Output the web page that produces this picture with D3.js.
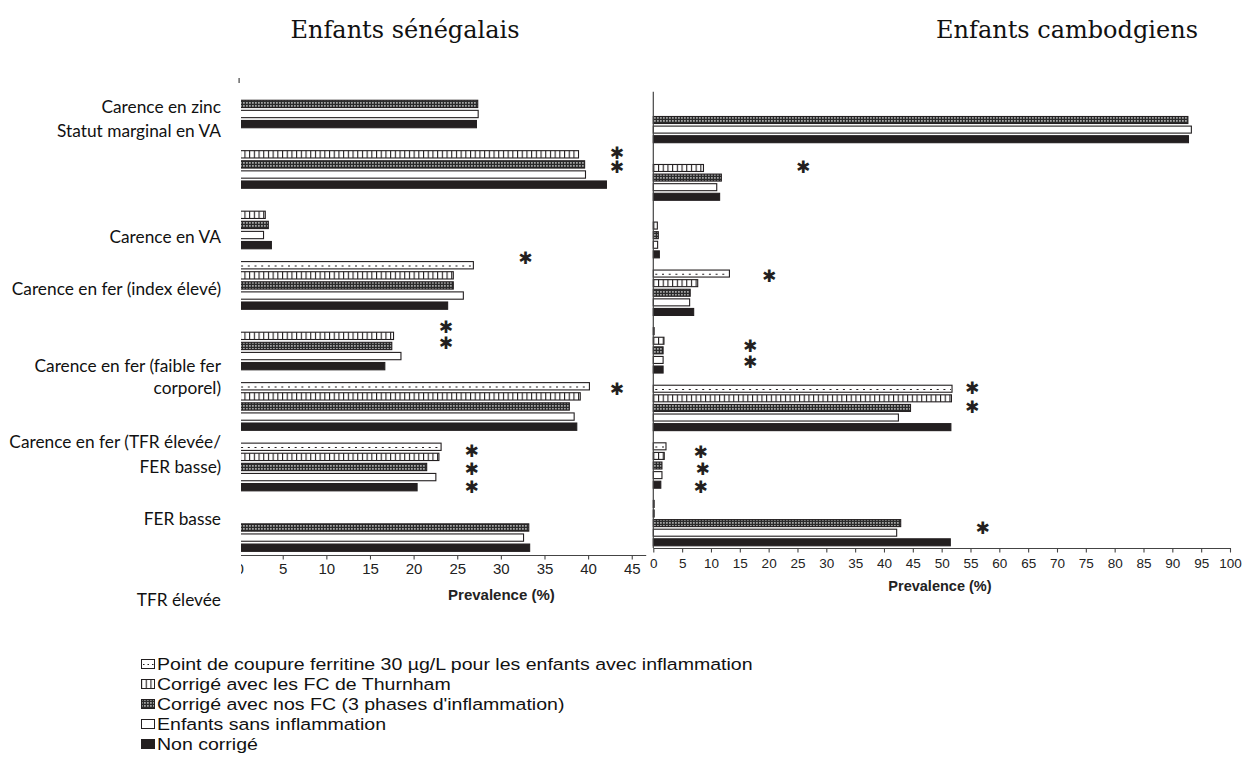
<!DOCTYPE html>
<html><head><meta charset="utf-8">
<script src="https://cdn.jsdelivr.net/npm/d3@7"></script>
<style>html,body{margin:0;padding:0;background:#fff;}svg{display:block;}</style>
</head><body>
<svg id="chart" width="1245" height="763"></svg>
<script>
// ---------- DATA ----------
const categories = ["Carence en zinc","Statut marginal en VA","Carence en VA","Carence en fer (index élevé)",
  "Carence en fer (faible fer corporel)","Carence en fer (TFR élevée/FER basse)","FER basse","TFR élevée"];
const categoryLines = [["Carence en zinc"],["Statut marginal en VA"],["Carence en VA"],["Carence en fer (index élevé)"],
  ["Carence en fer (faible fer","corporel)"],["Carence en fer (TFR élevée/","FER basse)"],["FER basse"],["TFR élevée"]];
const seriesNames = ["Point de coupure ferritine 30 µg/L pour les enfants avec inflammation",
  "Corrigé avec les FC de Thurnham","Corrigé avec nos FC (3 phases d'inflammation)",
  "Enfants sans inflammation","Non corrigé"];
const panelTitles = ["Enfants sénégalais","Enfants cambodgiens"];
const axisTitle = "Prevalence (%)";
const ticksLeft = [0,5,10,15,20,25,30,35,40,45];
const ticksRight = [0,5,10,15,20,25,30,35,40,45,50,55,60,65,70,75,80,85,90,95,100];

// Senegal (one array per series, one value per bar group; null = no bar)
const senPointCut = [null, null, null, 26.85, null, 40.15, 23.15, null];
const senThurnham = [null, 38.9, 3.0, 24.55, 17.7, 39.1, 22.9, null];
const senNosFC    = [27.35, 39.6, 3.35, 24.55, 17.5, 37.85, 21.5, 33.2];
const senSansInfl = [27.4, 39.7, 2.8, 25.7, 18.55, 38.4, 22.55, 32.6];
const senNonCorr  = [27.2, 42.1, 3.7, 23.9, 16.7, 38.7, 20.4, 33.3];
// Cambodia
const camPointCut = [null, null, null, 13.2, 0.15, 51.8, 2.2, 0.15];
const camThurnham = [null, 8.7, 0.7, 7.7, 1.85, 51.7, 1.9, 0.15];
const camNosFC    = [92.7, 11.8, 0.87, 6.4, 1.7, 44.6, 1.5, 42.9];
const camSansInfl = [93.3, 11.0, 0.75, 6.3, 1.7, 42.5, 1.5, 42.2];
const camNonCorr  = [92.8, 11.5, 1.05, 7.0, 1.7, 51.6, 1.3, 51.5];

// significance stars: group index, slot position (in bar slots), value on x axis
const senStars = [{g:1,s:0.9,v:43.3},{g:1,s:2.2,v:43.3},{g:2,s:5.25,v:32.8},{g:4,s:0.1,v:23.7},{g:4,s:1.7,v:23.7},
  {g:5,s:0.3,v:43.3},{g:6,s:0.4,v:26.65},{g:6,s:2.14,v:26.65},{g:6,s:4.0,v:26.65}];
const camStars = [{g:1,s:0.93,v:26},{g:3,s:0.2,v:20.1},{g:4,s:1.54,v:16.8},{g:4,s:3.18,v:16.8},
  {g:5,s:-0.05,v:55.3},{g:5,s:1.85,v:55.3},{g:6,s:0.55,v:8.2},{g:6,s:2.35,v:8.55},{g:6,s:4.2,v:8.2},{g:7,s:2.53,v:57.1}];

// ---------- LAYOUT ----------
const labelCenters = [[107],[131],[237],[289],[366,388],[442,467],[519],[600]];
const INK = "#231f20";
const svg = d3.select("#chart");
const defs = svg.append("defs");

// patterns
const pT = defs.append("pattern").attr("id","thurn").attr("patternUnits","userSpaceOnUse").attr("width",4.7).attr("height",10);
pT.append("rect").attr("width",4.7).attr("height",10).attr("fill","#fff");
pT.append("rect").attr("x",0).attr("width",1.1).attr("height",10).attr("fill",INK);
const pN = defs.append("pattern").attr("id","nosfc").attr("patternUnits","userSpaceOnUse").attr("width",3).attr("height",3);
pN.append("rect").attr("width",3).attr("height",3).attr("fill","#2b2b2b");
pN.append("rect").attr("x",0.2).attr("y",0.2).attr("width",1.4).attr("height",1.4).attr("fill","#e8e8e8");
defs.append("clipPath").attr("id","clipL").append("rect").attr("x",241).attr("y",0).attr("width",420).attr("height",763);

const fills = ["#fff","url(#thurn)","url(#nosfc)","#fff",INK];

function panel(opts){
  const {series, stars, x, y, ticks, axisY, tickFont, tickPad, titleFont, titleY, clip, barH} = opts;
  const s = d3.scaleBand().domain(d3.range(5)).range([0, y.bandwidth()]);
  const g = svg.append("g");
  if (clip) g.attr("clip-path","url(#clipL)");
  series.forEach((vals, i) => {
    const data = vals.map((v,gi)=>({v,gi})).filter(d=>d.v!==null);
    const yy = d => y(d.gi) + s(i) + (s.bandwidth()-barH)/2;
    g.selectAll(null).data(data).enter().append("rect")
      .attr("x", x(0)).attr("y", yy)
      .attr("width", d => x(d.v)-x(0)).attr("height", barH)
      .attr("fill", fills[i]).attr("stroke", INK).attr("stroke-width", 1.1);
    if (i === 0) {
      g.selectAll(null).data(data.filter(d=>x(d.v)-x(0)>4)).enter().append("line")
        .attr("x1", x(0)+2).attr("x2", d=>x(d.v)-1)
        .attr("y1", d=>yy(d)+barH*0.6).attr("y2", d=>yy(d)+barH*0.6)
        .attr("stroke", INK).attr("stroke-width",1.1).attr("stroke-dasharray","2,4.7");
    }
  });
  // stars
  g.selectAll(null).data(stars).enter().append("text")
    .attr("x", d=>x(d.v)).attr("y", d=>y(d.g) + (d.s+0.5)*s.step())
    .attr("text-anchor","middle").attr("dy","0.36em")
    .style("font-family","DejaVu Sans").style("font-size","17px").style("font-weight","bold")
    .attr("fill",INK).text("✱");
  // x axis
  const ax = g.append("g").attr("transform",`translate(0,${axisY})`)
    .call(d3.axisBottom(x).tickValues(ticks).tickSize(4.5).tickSizeOuter(0).tickPadding(tickPad).tickFormat(d3.format("d")));
  ax.select(".domain").attr("stroke","#444").attr("stroke-width",1.2);
  ax.selectAll(".tick line").attr("stroke","#444").attr("stroke-width",1.1);
  ax.selectAll(".tick text").style("font-family","'Liberation Sans', Arial, sans-serif").style("font-size",tickFont+"px").attr("fill","#222");
  svg.append("text").attr("x",(x(ticks[0])+x(ticks[ticks.length-1]))/2 + opts.titleDx).attr("y",titleY)
    .attr("text-anchor","middle").style("font-family","'Liberation Sans', Arial, sans-serif")
    .style("font-weight","bold").style("font-size",titleFont+"px").attr("fill","#222").text(axisTitle);
  return s;
}

// left panel
const xL = d3.scaleLinear().domain([0, 46.6]).range([239.1, 645.7]);
const yL = d3.scaleBand().domain(d3.range(8)).range([78.65, 552.75]).paddingInner(0.1655).paddingOuter(0);
panel({series:[senPointCut,senThurnham,senNosFC,senSansInfl,senNonCorr], stars:senStars, x:xL, y:yL,
  ticks:ticksLeft, axisY:555, tickFont:15, tickPad:3.5, titleFont:15, titleY:600, titleDx:66, clip:true, barH:7.3});
svg.append("line").attr("x1",xL(0)).attr("x2",xL(0)).attr("y1",78).attr("y2",83).attr("stroke","#444").attr("stroke-width",1.2);

// right panel
const xR = d3.scaleLinear().domain([0, 100]).range([653.3, 1230]);
const yR = d3.scaleBand().domain(d3.range(8)).range([96, 547.1]).paddingInner(0.1665).paddingOuter(0);
panel({series:[camPointCut,camThurnham,camNosFC,camSansInfl,camNonCorr], stars:camStars, x:xR, y:yR,
  ticks:ticksRight, axisY:548, tickFont:13.5, tickPad:6, titleFont:14.5, titleY:591, titleDx:-1.7, clip:false, barH:7});
svg.append("line").attr("x1",xR(0)).attr("x2",xR(0)).attr("y1",91.7).attr("y2",548).attr("stroke","#444").attr("stroke-width",1.2);

// panel titles
svg.selectAll(null).data(panelTitles).enter().append("text")
  .attr("x",(d,i)=> i===0 ? 405 : 1067).attr("y",38).attr("text-anchor","middle")
  .style("font-family","'DejaVu Serif', serif").style("font-size","24px").attr("fill","#111").text(d=>d);

// category labels
categoryLines.forEach((lines, ci) => {
  lines.forEach((ln, li) => {
    svg.append("text").attr("x",221).attr("y",labelCenters[ci][li]).attr("dy","0.35em")
      .attr("text-anchor","end").style("font-family","Lato, 'Open Sans', sans-serif")
      .style("font-size","17.3px").attr("fill","#111").text(ln);
  });
});

// legend
const legY = [664, 684, 704, 724, 744];
const leg = svg.append("g");
seriesNames.forEach((name, i) => {
  const cy = legY[i];
  leg.append("rect").attr("x",141.5).attr("y",cy-4.5).attr("width",13).attr("height",9)
    .attr("fill",fills[i]).attr("stroke",INK).attr("stroke-width",1);
  if (i===0) leg.append("line").attr("x1",143).attr("x2",154).attr("y1",cy+0.5).attr("y2",cy+0.5)
    .attr("stroke",INK).attr("stroke-width",1).attr("stroke-dasharray","1.5,3");
  leg.append("text").attr("transform",`translate(157,${cy}) scale(1.15,1)`).attr("dy","0.35em")
    .style("font-family","'Liberation Sans', Arial, sans-serif").style("font-size","17px").attr("fill","#111").text(name);
});
</script>
</body></html>
